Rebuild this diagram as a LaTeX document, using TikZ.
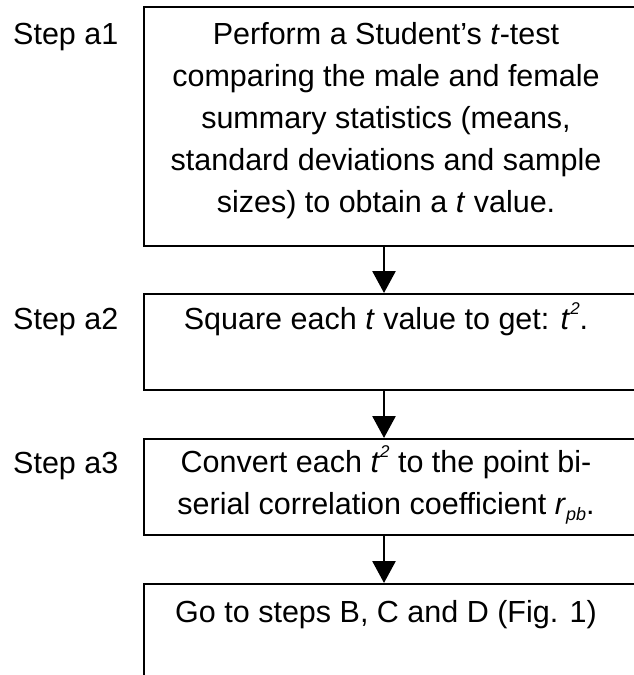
\documentclass[tikz,border=0pt]{standalone}
\usepackage{fontspec}
\setmainfont{Liberation Sans}
\usetikzlibrary{arrows.meta}
\newcommand{\supii}{\raisebox{0.48em}{\fontsize{17}{17}\selectfont\textit{2}}}
\newcommand{\subpb}{\raisebox{-0.2em}{\fontsize{18}{18}\selectfont\textit{pb}}}
\begin{document}
\begin{tikzpicture}[x=1pt,y=-1pt,
  box/.style={draw=black,line width=1.6pt,rectangle,inner sep=0pt,anchor=north west},
  txt/.style={inner sep=0pt,align=center,font=\fontsize{30.5}{42}\selectfont},
  lbl/.style={inner sep=0pt,anchor=base west,font=\fontsize{30.5}{42}\selectfont},
  arr/.style={line width=2.8pt,-{Triangle[width=23pt,length=22pt]}}]
\useasboundingbox (0,0) rectangle (634,675);
\clip (0,0) rectangle (634,675);
% boxes
\node[box,minimum width=520pt,minimum height=239pt] (b1) at (143,6) {};
\node[box,minimum width=520pt,minimum height=96pt] (b2) at (143,293) {};
\node[box,minimum width=520pt,minimum height=96pt] (b3) at (143,438) {};
\node[box,minimum width=520pt,minimum height=140pt] (b4) at (143,583) {};
% texts (base anchor = last line)
\node[txt,anchor=base] (t1) at (386,212) {Perform a Student’s \textit{t}-test\\comparing the male and female\\summary statistics (means,\\standard deviations and sample\\sizes) to obtain a \textit{t} value.};
\node[txt,anchor=base] (t2) at (386,329) {Square each \textit{t} value to get: \textit{t}\supii.};
\node[txt,anchor=base] (t3) at (386,514) {Convert each \textit{t}\supii{} to the point bi-\\serial correlation coefficient \textit{r}\subpb.};
\node[txt,anchor=base] (t4) at (386,622) {Go to steps B, C and D (Fig. 1)};
% step labels
\node[lbl] (s1) at (13,44) {Step a1};
\node[lbl] (s2) at (13,329) {Step a2};
\node[lbl] (s3) at (13,473) {Step a3};
% arrows
\coordinate (ax) at (384,0);
\draw[arr] (ax |- b1.south) -- (ax |- b2.north);
\draw[arr] (ax |- b2.south) -- (ax |- b3.north);
\draw[arr] (ax |- b3.south) -- (ax |- b4.north);
\end{tikzpicture}
\end{document}
